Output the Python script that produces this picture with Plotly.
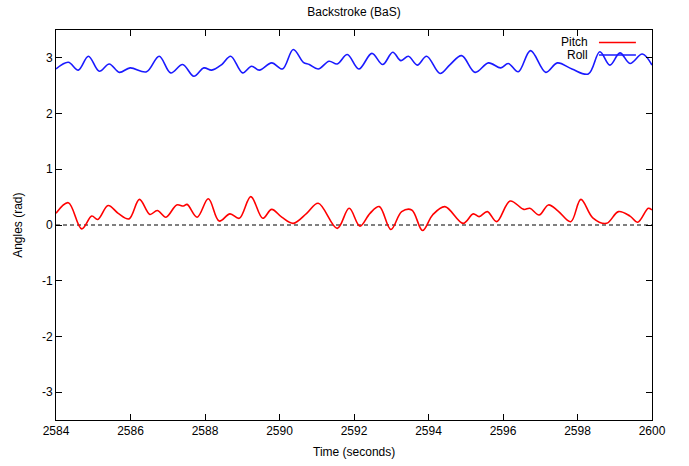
import plotly.graph_objects as go

# Data
roll_t = [2584.00, 2584.33, 2584.60, 2584.87, 2585.16, 2585.43, 2585.70, 2585.99,
          2586.43, 2586.77, 2587.08, 2587.40, 2587.70, 2587.97, 2588.18, 2588.45,
          2588.69, 2589.01, 2589.25, 2589.46, 2589.79, 2590.08, 2590.37, 2590.64,
          2590.80, 2591.04, 2591.33, 2591.55, 2591.82, 2592.13, 2592.48, 2592.77,
          2593.04, 2593.26, 2593.46, 2593.70, 2593.95, 2594.31, 2594.58, 2594.89,
          2595.25, 2595.61, 2595.94, 2596.14, 2596.41, 2596.74, 2597.15, 2597.46,
          2597.85, 2598.29, 2598.60, 2598.87, 2599.14, 2599.41, 2599.74, 2600.00]
roll_v = [2.80, 2.92, 2.78, 3.03, 2.76, 2.89, 2.74, 2.82,
          2.75, 3.03, 2.73, 2.88, 2.67, 2.82, 2.78, 2.88,
          3.03, 2.73, 2.85, 2.78, 2.91, 2.80, 3.15, 2.92,
          2.88, 2.80, 2.94, 2.89, 3.06, 2.80, 3.08, 2.88,
          3.10, 2.95, 3.03, 2.87, 3.03, 2.72, 2.88, 3.04,
          2.74, 2.91, 2.82, 2.90, 2.75, 3.13, 2.74, 2.91,
          2.80, 2.71, 3.11, 2.87, 3.09, 2.90, 3.07, 2.87]

pitch_t = [2584.00, 2584.33, 2584.69, 2584.96, 2585.12, 2585.40, 2585.67, 2585.96,
           2586.24, 2586.52, 2586.72, 2586.95, 2587.24, 2587.42, 2587.52, 2587.79,
           2588.09, 2588.38, 2588.67, 2588.92, 2589.23, 2589.55, 2589.79, 2590.06,
           2590.37, 2590.73, 2591.04, 2591.55, 2591.87, 2592.16, 2592.43, 2592.68,
           2592.99, 2593.28, 2593.55, 2593.84, 2594.11, 2594.44, 2594.93, 2595.20,
           2595.36, 2595.58, 2595.83, 2596.19, 2596.56, 2596.72, 2596.97, 2597.22,
           2597.48, 2597.82, 2598.09, 2598.41, 2598.78, 2599.10, 2599.41, 2599.62,
           2599.90, 2600.00]
pitch_v = [0.21, 0.40, -0.07, 0.16, 0.10, 0.35, 0.21, 0.11,
           0.46, 0.19, 0.26, 0.14, 0.36, 0.34, 0.37, 0.14,
           0.47, 0.07, 0.20, 0.12, 0.51, 0.12, 0.28, 0.14,
           0.03, 0.21, 0.39, -0.06, 0.30, -0.02, 0.21, 0.33,
           -0.08, 0.24, 0.27, -0.10, 0.18, 0.33, 0.03, 0.20,
           0.15, 0.24, 0.06, 0.43, 0.28, 0.30, 0.18, 0.36,
           0.25, 0.06, 0.46, 0.13, 0.03, 0.24, 0.16, 0.05,
           0.30, 0.27]

x_ticks = [2584, 2586, 2588, 2590, 2592, 2594, 2596, 2598, 2600]
x_tick_labels = ["2584", "2586", "2588", "2590", "2592", "2594", "2596", "2598", "2600"]
y_ticks = [-3, -2, -1, 0, 1, 2, 3]
y_tick_labels = ["-3", "-2", "-1", "0", "1", "2", "3"]
x_range = [2584, 2600]
y_range = [-3.5, 3.5]
zero_x = [2584, 2600]
zero_y = [0, 0]

PITCH_C = "#ff0000"
ROLL_C = "#1a1aff"
FONT = "Liberation Sans, Arial, sans-serif"

fig = go.Figure()
fig.add_trace(go.Scatter(x=zero_x, y=zero_y, mode="lines",
                         line=dict(color="black", width=1, dash="4px,3px"),
                         showlegend=False, hoverinfo="skip"))
fig.add_trace(go.Scatter(x=pitch_t, y=pitch_v, mode="lines", name="Pitch",
                         line=dict(color=PITCH_C, width=1.6, shape="spline", smoothing=1.0),
                         showlegend=False))
fig.add_trace(go.Scatter(x=roll_t, y=roll_v, mode="lines", name="Roll",
                         line=dict(color=ROLL_C, width=1.6, shape="spline", smoothing=1.0),
                         showlegend=False))

axis_common = dict(showgrid=False, zeroline=False, showline=True, linecolor="black",
                   linewidth=1, mirror="allticks", ticks="inside", ticklen=6,
                   tickcolor="black", tickwidth=1,
                   tickfont=dict(family=FONT, size=12, color="black"))

fig.update_xaxes(range=x_range, tickvals=x_ticks, ticktext=x_tick_labels, **axis_common)
fig.update_yaxes(range=y_range, tickvals=y_ticks, ticktext=y_tick_labels, **axis_common)

# legend drawn gnuplot-style: text right-aligned, sample line to the right
legend_items = [("Pitch", PITCH_C, 0.968), ("Roll", ROLL_C, 0.936)]
annotations = []
shapes = []
for label, col, yy in legend_items:
    annotations.append(dict(x=0.896, y=yy, xref="paper", yref="paper", text=label,
                            showarrow=False, xanchor="right", yanchor="middle",
                            font=dict(family=FONT, size=12, color="black")))
    shapes.append(dict(type="line", xref="paper", yref="paper", x0=0.911, x1=0.973,
                       y0=yy, y1=yy, line=dict(color=col, width=1.6)))

annotations.append(dict(x=0.5, y=-0.082, xref="paper", yref="paper",
                        text="Time (seconds)", showarrow=False, xanchor="center",
                        yanchor="middle", font=dict(family=FONT, size=12, color="black")))
annotations.append(dict(x=-0.064, y=0.5, xref="paper", yref="paper",
                        text="Angles (rad)", showarrow=False, textangle=-90,
                        xanchor="center", yanchor="middle",
                        font=dict(family=FONT, size=12, color="black")))

fig.update_layout(
    width=689, height=466,
    margin=dict(l=56, r=37, t=30, b=46),
    paper_bgcolor="white", plot_bgcolor="white",
    title=dict(text="Backstroke (BaS)", x=0.5, xref="paper", y=1 - 12 / 466,
               yref="container", xanchor="center", yanchor="middle",
               font=dict(family=FONT, size=12, color="black")),
    annotations=annotations, shapes=shapes, showlegend=False,
)

fig.write_html("out.html")
